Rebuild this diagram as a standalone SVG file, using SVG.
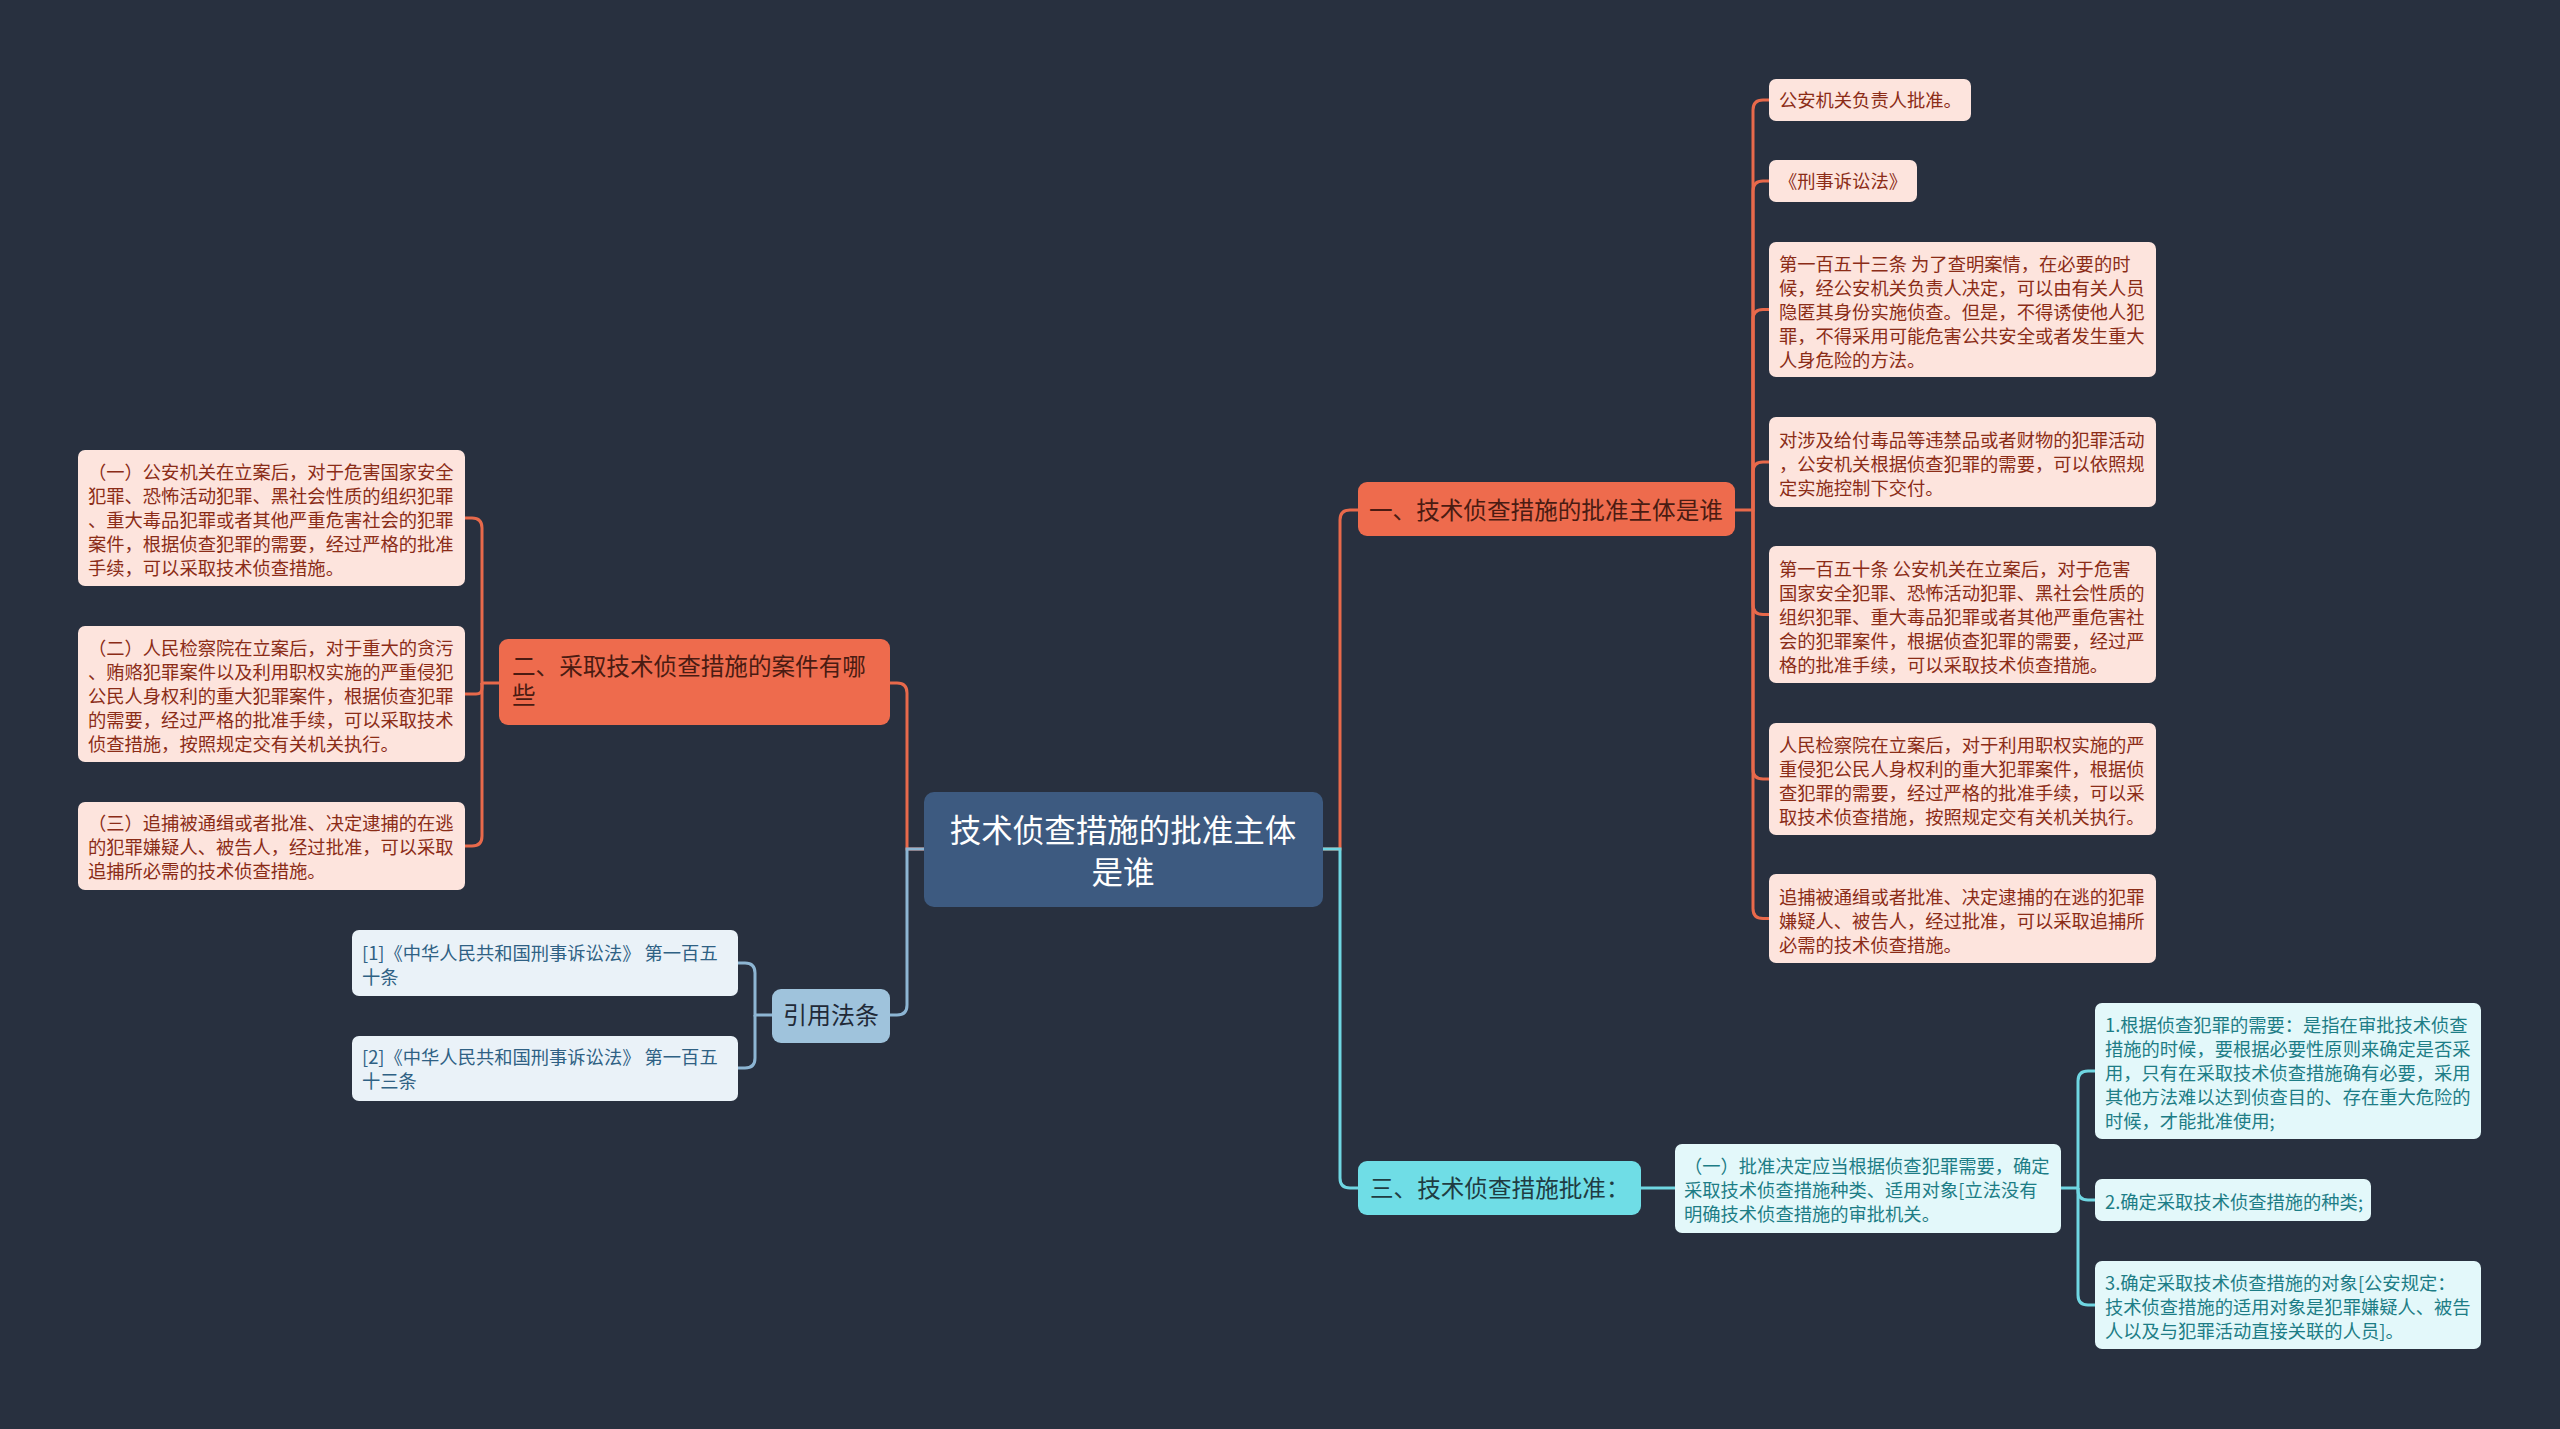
<svg xmlns="http://www.w3.org/2000/svg" width="2560" height="1429" viewBox="0 0 2560 1429">
<style>
text{font-family:"Noto Sans CJK SC","Noto Sans",sans-serif;}
.root{fill:#3d5a80;}
.rootT{fill:#ffffff;font-size:31.5px;text-anchor:middle;}
.main{fill:#ee6b4d;}
.mainT{fill:#4a1b12;font-size:23.6px;}
.pink{fill:#fde4dd;}
.pinkT{fill:#8b2c17;font-size:18.3px;}
.cyanM{fill:#6fdde6;}
.cyanMT{fill:#1f3c42;font-size:23.6px;}
.cyan{fill:#e3f8fa;}
.cyanT{fill:#1d7d86;font-size:18.3px;}
.blueM{fill:#9fc3dc;}
.blueMT{fill:#1f2a38;font-size:24px;text-anchor:middle;}
.blue{fill:#eaf2f8;}
.blueT{fill:#2f6184;font-size:18.3px;}
.c{fill:none;stroke-width:3;}
.cr{stroke:#e8694b;}
.cc{stroke:#6fd6e2;}
.cb{stroke:#8db5d3;}
</style>
<rect x="0" y="0" width="2560" height="1429" fill="#28303f"/>
<g id="connectors">
<path class="c cr" d="M1323,849 H1340 V520 Q1340,510 1350,510 H1358"/>
<path class="c cc" d="M1323,849 H1340 V1178 Q1340,1188 1350,1188 H1358"/>
<path class="c cr" d="M924,849 H907 V693 Q907,683 897,683 H890"/>
<path class="c cb" d="M924,849 H907 V1005 Q907,1015 897,1015 H890"/>
<path class="c cr" d="M1735,510 H1753 V110 Q1753,100 1763,100 H1769"/>
<path class="c cr" d="M1753,510 V191 Q1753,181 1763,181 H1769"/>
<path class="c cr" d="M1753,510 V319.5 Q1753,309.5 1763,309.5 H1769"/>
<path class="c cr" d="M1753,510 V472 Q1753,462 1763,462 H1769"/>
<path class="c cr" d="M1753,510 V604.5 Q1753,614.5 1763,614.5 H1769"/>
<path class="c cr" d="M1753,510 V769 Q1753,779 1763,779 H1769"/>
<path class="c cr" d="M1753,510 V908.5 Q1753,918.5 1763,918.5 H1769"/>
<path class="c cr" d="M499,683 H482 V528 Q482,518 472,518 H465"/>
<path class="c cr" d="M482,683 V688 Q482,694 476,694 H465"/>
<path class="c cr" d="M482,683 V836 Q482,846 472,846 H465"/>
<path class="c cb" d="M772,1015 H755 V973 Q755,963 745,963 H738"/>
<path class="c cb" d="M755,1015 V1058 Q755,1068 745,1068 H738"/>
<path class="c cc" d="M1641,1188 H1675"/>
<path class="c cc" d="M2061,1188 H2078 V1081 Q2078,1071 2088,1071 H2095"/>
<path class="c cc" d="M2078,1188 V1190 Q2078,1200 2088,1200 H2095"/>
<path class="c cc" d="M2078,1188 V1295 Q2078,1305 2088,1305 H2095"/>
</g>
<g id="root">
<rect class="root" x="924" y="792" width="399" height="115" rx="10"/>
<text class="rootT" x="1123" y="842">技术侦查措施的批准主体</text>
<text class="rootT" x="1123" y="884">是谁</text>
</g>
<g id="n1">
<rect class="main" x="1358" y="482" width="377" height="54" rx="9"/>
<text class="mainT" x="1369" y="519">一、技术侦查措施的批准主体是谁</text>
</g>
<g id="n1a">
<rect class="pink" x="1769" y="79" width="202" height="42" rx="7"/>
<text class="pinkT" x="1779" y="107">公安机关负责人批准。</text>
</g>
<g id="n1b">
<rect class="pink" x="1769" y="160" width="148" height="42" rx="7"/>
<text class="pinkT" x="1779" y="188">《刑事诉讼法》</text>
</g>
<g id="n1c">
<rect class="pink" x="1769" y="242" width="387" height="135" rx="7"/>
<text class="pinkT" x="1779" y="271">第一百五十三条 为了查明案情，在必要的时</text>
<text class="pinkT" x="1779" y="295">候，经公安机关负责人决定，可以由有关人员</text>
<text class="pinkT" x="1779" y="319">隐匿其身份实施侦查。但是，不得诱使他人犯</text>
<text class="pinkT" x="1779" y="343">罪，不得采用可能危害公共安全或者发生重大</text>
<text class="pinkT" x="1779" y="367">人身危险的方法。</text>
</g>
<g id="n1d">
<rect class="pink" x="1769" y="417" width="387" height="90" rx="7"/>
<text class="pinkT" x="1779" y="447">对涉及给付毒品等违禁品或者财物的犯罪活动</text>
<text class="pinkT" x="1779" y="471">，公安机关根据侦查犯罪的需要，可以依照规</text>
<text class="pinkT" x="1779" y="495">定实施控制下交付。</text>
</g>
<g id="n1e">
<rect class="pink" x="1769" y="546" width="387" height="137" rx="7"/>
<text class="pinkT" x="1779" y="576">第一百五十条 公安机关在立案后，对于危害</text>
<text class="pinkT" x="1779" y="600">国家安全犯罪、恐怖活动犯罪、黑社会性质的</text>
<text class="pinkT" x="1779" y="624">组织犯罪、重大毒品犯罪或者其他严重危害社</text>
<text class="pinkT" x="1779" y="648">会的犯罪案件，根据侦查犯罪的需要，经过严</text>
<text class="pinkT" x="1779" y="672">格的批准手续，可以采取技术侦查措施。</text>
</g>
<g id="n1f">
<rect class="pink" x="1769" y="723" width="387" height="112" rx="7"/>
<text class="pinkT" x="1779" y="752">人民检察院在立案后，对于利用职权实施的严</text>
<text class="pinkT" x="1779" y="776">重侵犯公民人身权利的重大犯罪案件，根据侦</text>
<text class="pinkT" x="1779" y="800">查犯罪的需要，经过严格的批准手续，可以采</text>
<text class="pinkT" x="1779" y="824">取技术侦查措施，按照规定交有关机关执行。</text>
</g>
<g id="n1g">
<rect class="pink" x="1769" y="874" width="387" height="89" rx="7"/>
<text class="pinkT" x="1779" y="904">追捕被通缉或者批准、决定逮捕的在逃的犯罪</text>
<text class="pinkT" x="1779" y="928">嫌疑人、被告人，经过批准，可以采取追捕所</text>
<text class="pinkT" x="1779" y="952">必需的技术侦查措施。</text>
</g>
<g id="n2">
<rect class="main" x="499" y="639" width="391" height="86" rx="9"/>
<text class="mainT" x="512" y="675">二、采取技术侦查措施的案件有哪</text>
<text class="mainT" x="512" y="704">些</text>
</g>
<g id="n2a">
<rect class="pink" x="78" y="450" width="387" height="136" rx="7"/>
<text class="pinkT" x="88" y="479">（一）公安机关在立案后，对于危害国家安全</text>
<text class="pinkT" x="88" y="503">犯罪、恐怖活动犯罪、黑社会性质的组织犯罪</text>
<text class="pinkT" x="88" y="527">、重大毒品犯罪或者其他严重危害社会的犯罪</text>
<text class="pinkT" x="88" y="551">案件，根据侦查犯罪的需要，经过严格的批准</text>
<text class="pinkT" x="88" y="575">手续，可以采取技术侦查措施。</text>
</g>
<g id="n2b">
<rect class="pink" x="78" y="626" width="387" height="136" rx="7"/>
<text class="pinkT" x="88" y="655">（二）人民检察院在立案后，对于重大的贪污</text>
<text class="pinkT" x="88" y="679">、贿赂犯罪案件以及利用职权实施的严重侵犯</text>
<text class="pinkT" x="88" y="703">公民人身权利的重大犯罪案件，根据侦查犯罪</text>
<text class="pinkT" x="88" y="727">的需要，经过严格的批准手续，可以采取技术</text>
<text class="pinkT" x="88" y="751">侦查措施，按照规定交有关机关执行。</text>
</g>
<g id="n2c">
<rect class="pink" x="78" y="802" width="387" height="88" rx="7"/>
<text class="pinkT" x="88" y="830">（三）追捕被通缉或者批准、决定逮捕的在逃</text>
<text class="pinkT" x="88" y="854">的犯罪嫌疑人、被告人，经过批准，可以采取</text>
<text class="pinkT" x="88" y="878">追捕所必需的技术侦查措施。</text>
</g>
<g id="nref">
<rect class="blueM" x="772" y="989" width="118" height="54" rx="9"/>
<text class="blueMT" x="831" y="1024">引用法条</text>
</g>
<g id="nref1">
<rect class="blue" x="352" y="930" width="386" height="66" rx="7"/>
<text class="blueT" x="362" y="960">[1]《中华人民共和国刑事诉讼法》 第一百五</text>
<text class="blueT" x="362" y="984">十条</text>
</g>
<g id="nref2">
<rect class="blue" x="352" y="1036" width="386" height="65" rx="7"/>
<text class="blueT" x="362" y="1064">[2]《中华人民共和国刑事诉讼法》 第一百五</text>
<text class="blueT" x="362" y="1088">十三条</text>
</g>
<g id="n3">
<rect class="cyanM" x="1358" y="1161" width="283" height="54" rx="9"/>
<text class="cyanMT" x="1370" y="1197">三、技术侦查措施批准：</text>
</g>
<g id="n3a">
<rect class="cyan" x="1675" y="1144" width="386" height="89" rx="7"/>
<text class="cyanT" x="1684" y="1173">（一）批准决定应当根据侦查犯罪需要，确定</text>
<text class="cyanT" x="1684" y="1197">采取技术侦查措施种类、适用对象[立法没有</text>
<text class="cyanT" x="1684" y="1221">明确技术侦查措施的审批机关。</text>
</g>
<g id="n3a1">
<rect class="cyan" x="2095" y="1003" width="386" height="136" rx="7"/>
<text class="cyanT" x="2105" y="1032">1.根据侦查犯罪的需要：是指在审批技术侦查</text>
<text class="cyanT" x="2105" y="1056">措施的时候，要根据必要性原则来确定是否采</text>
<text class="cyanT" x="2105" y="1080">用，只有在采取技术侦查措施确有必要，采用</text>
<text class="cyanT" x="2105" y="1104">其他方法难以达到侦查目的、存在重大危险的</text>
<text class="cyanT" x="2105" y="1128">时候，才能批准使用;</text>
</g>
<g id="n3a2">
<rect class="cyan" x="2095" y="1179" width="276" height="42" rx="7"/>
<text class="cyanT" x="2105" y="1209">2.确定采取技术侦查措施的种类;</text>
</g>
<g id="n3a3">
<rect class="cyan" x="2095" y="1261" width="386" height="88" rx="7"/>
<text class="cyanT" x="2105" y="1290">3.确定采取技术侦查措施的对象[公安规定：</text>
<text class="cyanT" x="2105" y="1314">技术侦查措施的适用对象是犯罪嫌疑人、被告</text>
<text class="cyanT" x="2105" y="1338">人以及与犯罪活动直接关联的人员]。</text>
</g>
</svg>
